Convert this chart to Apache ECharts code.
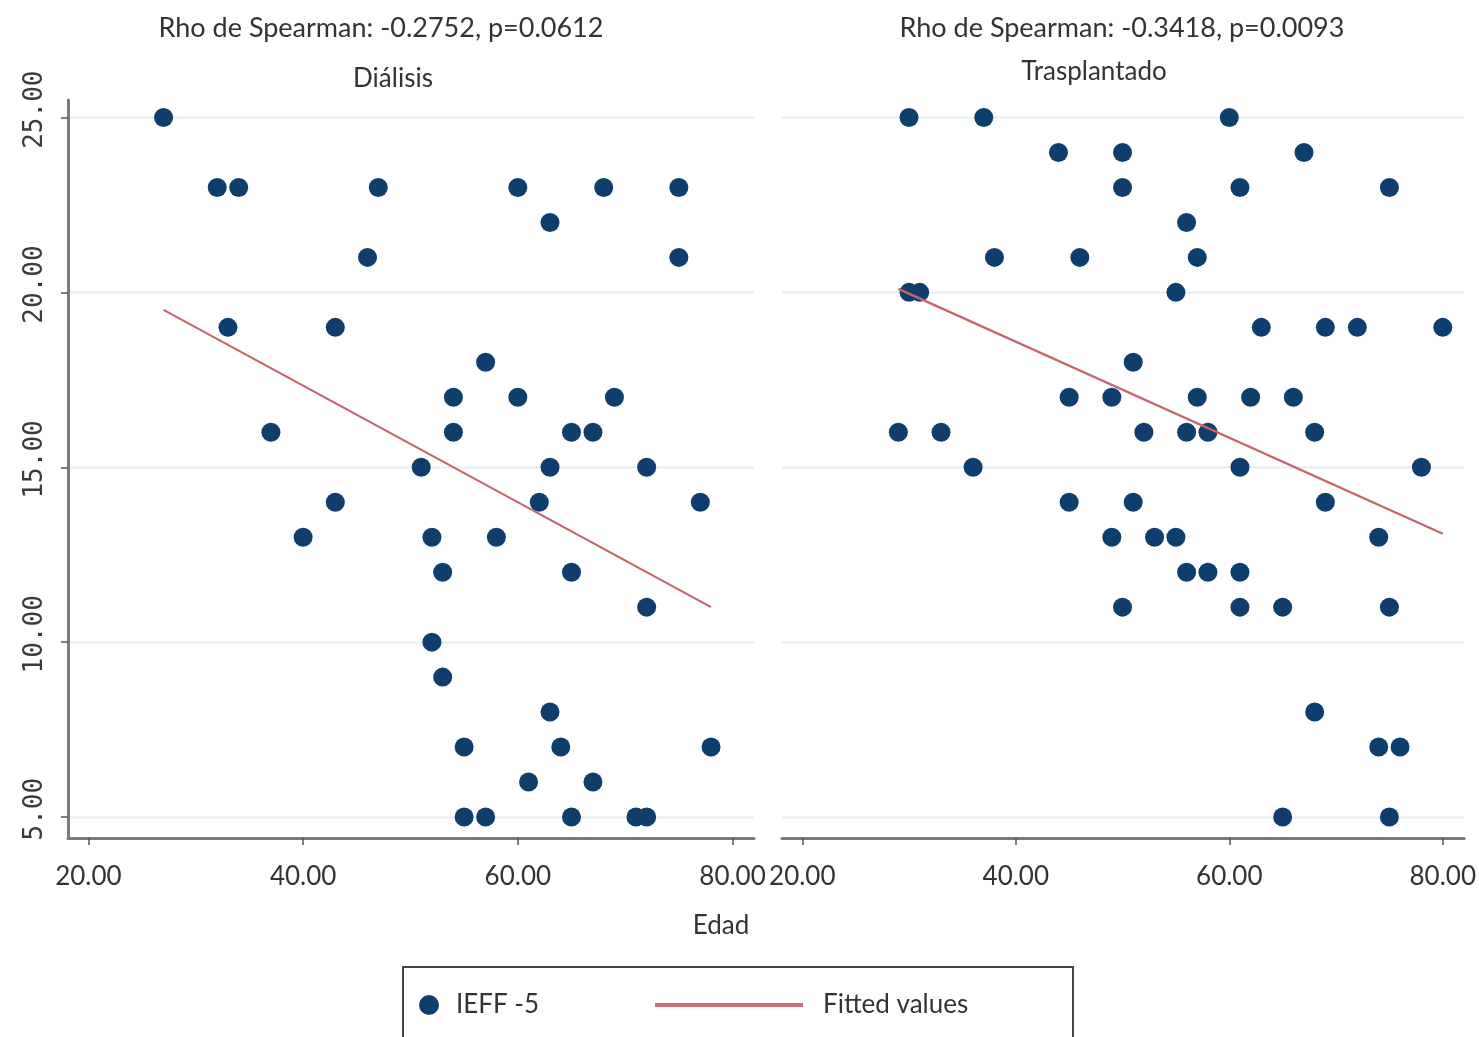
<!DOCTYPE html>
<html><head><meta charset="utf-8">
<script src="https://cdn.jsdelivr.net/npm/echarts@6/dist/echarts.min.js"></script>
<style>html,body{margin:0;padding:0;background:#fff}#c{width:1479px;height:1037px}</style>
</head><body><div id="c"></div>
<script>
// ---- Data ----
const dialisisEdad = [27, 32,34,47,60,68,75, 63, 46,75, 33,43, 57, 54,60,69, 37,54,65,67, 51,63,72, 43,62,77, 40,52,58, 53,65, 72, 52, 53, 63, 55,64,78, 61,67, 55,57,65,71,72];
const dialisisIEFF = [25, 23,23,23,23,23,23, 22, 21,21, 19,19, 18, 17,17,17, 16,16,16,16, 15,15,15, 14,14,14, 13,13,13, 12,12, 11, 10, 9, 8, 7,7,7, 6,6, 5,5,5,5,5];
const trasplanteEdad = [30,37,60, 44,50,67, 50,61,75, 56, 38,46,57, 30,31,55, 63,69,72,80, 51, 45,49,57,62,66, 29,33,52,56,58,68, 36,61,78, 45,51,69, 49,53,55,74, 56,58,61, 50,61,65,75, 68, 74,76, 65,75];
const trasplanteIEFF = [25,25,25, 24,24,24, 23,23,23, 22, 21,21,21, 20,20,20, 19,19,19,19, 18, 17,17,17,17,17, 16,16,16,16,16,16, 15,15,15, 14,14,14, 13,13,13,13, 12,12,12, 11,11,11,11, 8, 7,7, 5,5];
// Fitted-value line end points
const dialisisFitEdad = [27, 78];
const dialisisFitIEFF = [19.5, 11.0];
const trasplanteFitEdad = [29, 80];
const trasplanteFitIEFF = [20.1, 13.1];
// Ticks
const xTicks = [20, 40, 60, 80];
const yTicks = [5, 10, 15, 20, 25];
const titles = ['Rho de Spearman: -0.2752, p=0.0612', 'Rho de Spearman: -0.3418, p=0.0093'];
const panelNames = ['Diálisis', 'Trasplantado'];
const xName = 'Edad';
const seriesNames = ['IEFF -5', 'Fitted values'];

const pts = (xs, ys) => xs.map((x, i) => [x, ys[i]]);
const FONT = 'Lato';
const TXT = '#333';
const NAVY = '#0f3e6d';
const RED = '#c8646a';

function xAxisCfg(gi) {
  return {
    type: 'value', gridIndex: gi, min: 18.1, max: 82,
    axisLine: { show: true, lineStyle: { color: '#7a7a7a', width: 3 } },
    axisTick: { show: true, customValues: xTicks, length: 7, lineStyle: { color: '#555', width: 1.5 } },
    axisLabel: { customValues: xTicks, formatter: v => Number(v).toFixed(2), fontFamily: FONT, fontSize: 26, color: TXT, margin: 26 },
    splitLine: { show: false }
  };
}
function yAxisCfg(gi, visible) {
  return {
    type: 'value', gridIndex: gi, min: 4.4, max: 25.5,
    axisLine: { show: visible, lineStyle: { color: '#7a7a7a', width: 3 } },
    axisTick: { show: visible, customValues: yTicks, length: 7, lineStyle: { color: '#555', width: 1.5 } },
    axisLabel: { show: visible, customValues: yTicks, rotate: 90, formatter: v => ' ' + Number(v).toFixed(2), fontFamily: 'DejaVu Sans Mono', fontSize: 26, color: '#3a3a3a', margin: 20 },
    splitLine: { show: true, lineStyle: { color: '#e8f1f3', width: 2.5 } }
  };
}

const chart = echarts.init(document.getElementById('c'), null, { renderer: 'canvas' });
chart.setOption({
  animation: false,
  backgroundColor: '#fff',
  title: [
    { text: titles[0], left: 381, top: 15, textAlign: 'center', padding: 0, textStyle: { fontFamily: FONT, fontSize: 27, fontWeight: 'normal', color: TXT } },
    { text: titles[1], left: 1122, top: 15, textAlign: 'center', padding: 0, textStyle: { fontFamily: FONT, fontSize: 27, fontWeight: 'normal', color: TXT } },
    { text: panelNames[0], left: 393, top: 66, textAlign: 'center', padding: 0, textStyle: { fontFamily: FONT, fontSize: 26, fontWeight: 'normal', color: TXT } },
    { text: panelNames[1], left: 1094, top: 59, textAlign: 'center', padding: 0, textStyle: { fontFamily: FONT, fontSize: 26, fontWeight: 'normal', color: TXT } },
    { text: xName, left: 721, top: 913, textAlign: 'center', padding: 0, textStyle: { fontFamily: FONT, fontSize: 26, fontWeight: 'normal', color: TXT } }
  ],
  grid: [
    { left: 68, top: 100, width: 686, height: 738 },
    { left: 782, top: 100, width: 688, height: 738 }
  ],
  xAxis: [xAxisCfg(0), xAxisCfg(1)],
  yAxis: [yAxisCfg(0, true), yAxisCfg(1, false)],
  legend: [
    { data: [{ name: seriesNames[0], icon: 'circle' }], left: 419, top: 992, itemWidth: 20, itemHeight: 20, padding: 0,
      textStyle: { fontFamily: FONT, fontSize: 26, color: TXT, padding: [0, 0, 0, 12] } },
    { data: [{ name: seriesNames[1], icon: 'rect' }], left: 655, top: 992, itemWidth: 148, itemHeight: 4, padding: 0,
      itemStyle: { color: '#cd7074' },
      textStyle: { fontFamily: FONT, fontSize: 26, color: TXT, padding: [0, 0, 0, 15] } }
  ],
  graphic: [
    { type: 'rect', shape: { x: 403, y: 967, width: 670, height: 120 }, style: { fill: 'none', stroke: '#444', lineWidth: 2 }, silent: true }
  ],
  series: [
    { name: seriesNames[0], type: 'scatter', xAxisIndex: 0, yAxisIndex: 0, symbol: 'circle', symbolSize: 19,
      itemStyle: { color: NAVY, opacity: 1 }, data: pts(dialisisEdad, dialisisIEFF), z: 3 },
    { name: seriesNames[1], type: 'line', xAxisIndex: 0, yAxisIndex: 0, showSymbol: false, symbol: 'none',
      lineStyle: { color: RED, width: 2.2 }, itemStyle: { color: RED }, data: pts(dialisisFitEdad, dialisisFitIEFF), z: 4 },
    { name: seriesNames[0], type: 'scatter', xAxisIndex: 1, yAxisIndex: 1, symbol: 'circle', symbolSize: 19,
      itemStyle: { color: NAVY, opacity: 1 }, data: pts(trasplanteEdad, trasplanteIEFF), z: 3 },
    { name: seriesNames[1], type: 'line', xAxisIndex: 1, yAxisIndex: 1, showSymbol: false, symbol: 'none',
      lineStyle: { color: RED, width: 2.2 }, itemStyle: { color: RED }, data: pts(trasplanteFitEdad, trasplanteFitIEFF), z: 4 }
  ]
});
</script></body></html>
